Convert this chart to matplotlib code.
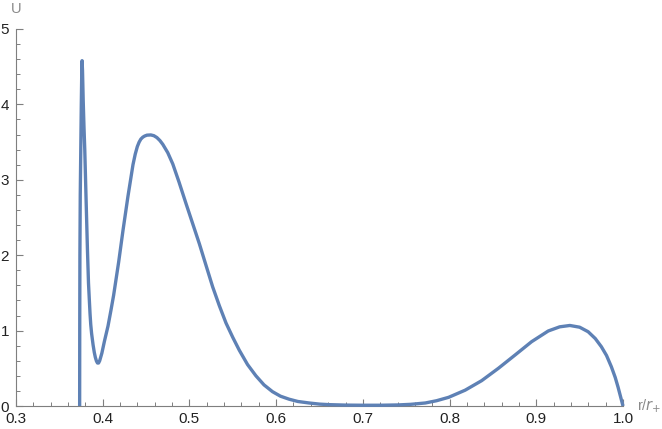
import numpy as np
import matplotlib
matplotlib.use("Agg")
import matplotlib.pyplot as plt
from matplotlib.ticker import MultipleLocator

# Configuration
OUTPUT_PLOT = "out.png"
LINE_COLOR = "#5e81b5"
AXIS_COLOR = "#7f7f7f"

# Values (r/r+ , U)
r_vals = [0.3734, 0.3735, 0.3737, 0.3741, 0.3747, 0.3753, 0.3758, 0.3762,
          0.3767, 0.3775, 0.3784, 0.3793, 0.3808, 0.3824, 0.3836, 0.3846,
          0.3854, 0.3862, 0.3872, 0.3889, 0.3903, 0.3915, 0.3928, 0.3940,
          0.3952, 0.3965, 0.3990, 0.4020, 0.4061, 0.4095, 0.4126, 0.4155,
          0.4184, 0.4234, 0.4291, 0.4349, 0.4375, 0.4399, 0.4420, 0.4440,
          0.4462, 0.4483, 0.4510, 0.4555, 0.4590, 0.4625, 0.4660, 0.4693,
          0.4750, 0.4808, 0.4880, 0.4962, 0.5040, 0.5115, 0.5190, 0.5268,
          0.5345, 0.5422, 0.5500, 0.5575, 0.5670, 0.5767, 0.5860, 0.5958,
          0.6050, 0.6150, 0.6250, 0.6380, 0.6500, 0.6610, 0.6800, 0.7000,
          0.7200, 0.7400, 0.7550, 0.7720, 0.7850, 0.7989, 0.8180, 0.8370,
          0.8563, 0.8755, 0.8946, 0.9138, 0.9270, 0.9387, 0.9500, 0.9598,
          0.9680, 0.9750, 0.9810, 0.9866, 0.9910, 0.9943, 0.9975, 1.0000]
u_vals = [0.00, 1.00, 2.00, 2.80, 3.40, 4.00, 4.40, 4.58,
          4.45, 4.05, 3.70, 3.40, 2.75, 2.07, 1.63, 1.40,
          1.22, 1.08, 0.96, 0.81, 0.71, 0.645, 0.595, 0.57,
          0.57, 0.60, 0.70, 0.86, 1.06, 1.27, 1.47, 1.69,
          1.91, 2.33, 2.78, 3.20, 3.34, 3.44, 3.50, 3.54,
          3.565, 3.58, 3.592, 3.595, 3.585, 3.56, 3.52, 3.47,
          3.36, 3.21, 2.97, 2.68, 2.41, 2.15, 1.87, 1.58,
          1.33, 1.10, 0.91, 0.74, 0.55, 0.40, 0.28, 0.19,
          0.13, 0.09, 0.06, 0.04, 0.025, 0.018, 0.012, 0.010,
          0.010, 0.014, 0.022, 0.040, 0.070, 0.115, 0.210, 0.336,
          0.500, 0.676, 0.853, 0.995, 1.050, 1.068, 1.045, 0.985,
          0.895, 0.787, 0.670, 0.520, 0.380, 0.250, 0.110, 0.000]

x_major = [0.3, 0.4, 0.5, 0.6, 0.7, 0.8, 0.9, 1.0]
x_labels = ["0.3", "0.4", "0.5", "0.6", "0.7", "0.8", "0.9", "1.0"]
y_major = [0, 1, 2, 3, 4, 5]

plt.rcParams['font.family'] = ['Liberation Sans', 'DejaVu Sans']

W, H = 662, 429
fig = plt.figure(figsize=(W / 100, H / 100), dpi=100)
left, right, bottom, top = 16, 623, 406, 29
ax = fig.add_axes([left / W, (H - bottom) / H, (right - left) / W, (bottom - top) / H])

ax.plot(r_vals, u_vals, color=LINE_COLOR, linewidth=2.4, zorder=3,
        clip_on=False, solid_joinstyle='round', solid_capstyle='butt')

ax.set_xlim(0.3, 1.0)
ax.set_ylim(0, 5)

for side in ['top', 'right']:
    ax.spines[side].set_visible(False)
for side in ['left', 'bottom']:
    ax.spines[side].set_color(AXIS_COLOR)
    ax.spines[side].set_linewidth(0.8)

ax.set_xticks(x_major)
ax.set_xticklabels(x_labels)
ax.set_yticks(y_major)
ax.xaxis.set_minor_locator(MultipleLocator(0.02))
ax.yaxis.set_minor_locator(MultipleLocator(0.2))

ax.tick_params(which='both', direction='in', colors=AXIS_COLOR, labelcolor='#222222',
               labelsize=11)
ax.tick_params(which='major', length=5, width=0.8)
ax.tick_params(which='minor', length=2.8, width=0.7)
ax.tick_params(axis='x', which='major', pad=4.5)
ax.tick_params(axis='y', which='major', pad=5)

# Axis labels, Mathematica-style at the ends of the axes
ax.annotate("U", xy=(0, 1), xycoords='axes fraction', xytext=(0, 13),
            textcoords='offset pixels', ha='center', va='bottom',
            color='#8a8a8a', fontsize=10.5)
ax.annotate("r/$\\mathit{r}_{+}$", xy=(1, 0), xycoords='axes fraction', xytext=(14, 0),
            textcoords='offset pixels', ha='left', va='center',
            color='#8a8a8a', fontsize=10.5)

fig.savefig(OUTPUT_PLOT, dpi=100)
